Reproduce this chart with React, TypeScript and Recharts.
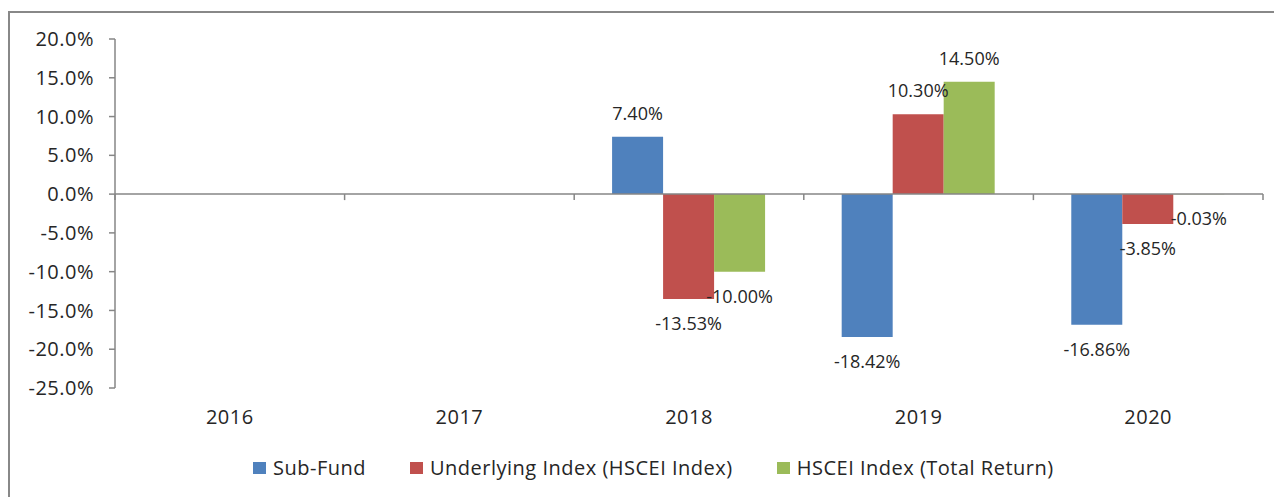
import React from 'react';
import { BarChart, Bar, XAxis, YAxis, LabelList, ReferenceLine } from 'recharts';

const years = ['2016', '2017', '2018', '2019', '2020'];
const subFund: (number | null)[] = [null, null, 7.4, -18.42, -16.86];
const underlying: (number | null)[] = [null, null, -13.53, 10.3, -3.85];
const totalReturn: (number | null)[] = [null, null, -10.0, 14.5, -0.03];
const yTicks = [-25, -20, -15, -10, -5, 0, 5, 10, 15, 20];

const seriesNames = ['Sub-Fund', 'Underlying Index (HSCEI Index)', 'HSCEI Index (Total Return)'];
const colors = ['#4F81BD', '#C0504D', '#9BBB59'];

const data = years.map((y, i) => ({
  year: y,
  subFund: subFund[i],
  underlying: underlying[i],
  totalReturn: totalReturn[i],
}));

const FONT = '"Open Sans", "Liberation Sans", sans-serif';
const TEXT = '#262626';
const AXIS = '#868686';

const renderLabel = (props: any) => {
  const { x, y, width, height, value } = props;
  if (value === null || value === undefined) return null;
  const v = Number(value);
  const top = Math.min(y, y + height);
  const bottom = Math.max(y, y + height);
  const cx = x + width / 2;
  const cy = v >= 0 ? top - 24 : bottom + 24;
  return (
    <text
      x={cx}
      y={cy}
      textAnchor="middle"
      dominantBaseline="central"
      fontFamily={FONT}
      fontSize={18}
      fill={TEXT}
    >
      {v.toFixed(2) + '%'}
    </text>
  );
};

const ZeroAxis = (props: any) => {
  const { x1, x2, y1 } = props;
  if (x1 === undefined) return null;
  const n = years.length;
  const step = (x2 - x1) / n;
  const ticks = [];
  for (let i = 0; i <= n; i++) {
    const tx = x1 + i * step;
    ticks.push(<line key={i} x1={tx} x2={tx} y1={y1} y2={y1 + 6} stroke={AXIS} strokeWidth={1.5} />);
  }
  return (
    <g>
      <line x1={x1} x2={x2} y1={y1} y2={y1} stroke={AXIS} strokeWidth={1.5} />
      {ticks}
    </g>
  );
};

const LegendBox = () => (
  <div style={{ position: 'absolute', left: 253, top: 456, display: 'flex', alignItems: 'center', fontFamily: FONT, fontSize: 20, color: TEXT, letterSpacing: 0.5, whiteSpace: 'nowrap', lineHeight: '24px' }}>
    {seriesNames.map((n, i) => (
      <div key={n} style={{ display: 'flex', alignItems: 'center', marginRight: i < seriesNames.length - 1 ? 44 : 0 }}>
        <span style={{ display: 'inline-block', width: 13, height: 12, background: colors[i], marginRight: 7 }} />
        <span>{n}</span>
      </div>
    ))}
  </div>
);

export default function App() {
  return (
    <div style={{ position: 'absolute', left: 0, top: 0, width: 1274, height: 497, background: '#fff', overflow: 'hidden' }}>
      <div style={{ position: 'absolute', left: 8, top: 11, width: 1300, height: 520, borderLeft: '2px solid #888', borderTop: '2px solid #888', boxSizing: 'border-box' }} />
      <div style={{ position: 'absolute', left: 0, top: 0 }}>
        <BarChart
          width={1274}
          height={497}
          data={data}
          margin={{ top: 39, right: 11, bottom: 69, left: 8 }}
          barCategoryGap="16.5%"
          barGap={0}
        >
          <XAxis
            dataKey="year"
            axisLine={false}
            tickLine={false}
            tickSize={6}
            tickMargin={16}
            height={40}
            tick={{ fontFamily: FONT, fontSize: 20, fill: TEXT, letterSpacing: 0.5 }}
            interval={0}
          />
          <YAxis
            width={107}
            domain={[-25, 20]}
            ticks={yTicks}
            interval={0}
            allowDataOverflow
            tickFormatter={(v: number) => v.toFixed(1) + '%'}
            axisLine={{ stroke: AXIS, strokeWidth: 1.5 }}
            tickLine={{ stroke: AXIS, strokeWidth: 1.5 }}
            tickSize={6}
            tickMargin={15}
            tick={{ fontFamily: FONT, fontSize: 20, fill: TEXT, letterSpacing: 0.5 }}
          />
          <Bar dataKey="subFund" fill={colors[0]} isAnimationActive={false}>
            <LabelList dataKey="subFund" content={renderLabel} />
          </Bar>
          <Bar dataKey="underlying" fill={colors[1]} isAnimationActive={false}>
            <LabelList dataKey="underlying" content={renderLabel} />
          </Bar>
          <Bar dataKey="totalReturn" fill={colors[2]} isAnimationActive={false}>
            <LabelList dataKey="totalReturn" content={renderLabel} />
          </Bar>
          <ReferenceLine y={0} shape={ZeroAxis} />
        </BarChart>
      </div>
      <LegendBox />
    </div>
  );
}
